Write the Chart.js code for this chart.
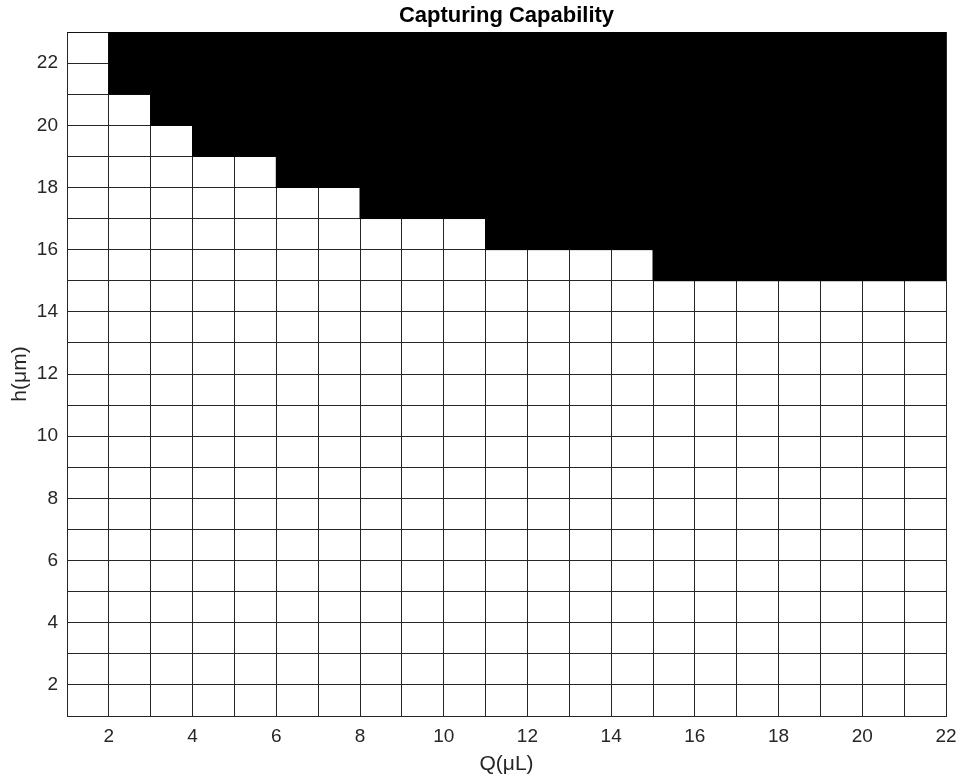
<!DOCTYPE html>
<html>
<head>
<meta charset="utf-8">
<script src="https://cdn.jsdelivr.net/npm/chart.js@4.4.1/dist/chart.umd.min.js"></script>
<style>
  html, body { margin: 0; padding: 0; background: #ffffff; }
  canvas { display: block; }
</style>
</head>
<body>
<canvas id="c" width="960" height="780"></canvas>
<script>
// ---- Data ----
const chartTitle = 'Capturing Capability';
const xTitle = 'Q(μL)';
const yTitle = 'h(μm)';

// Left edges of each Q column (last value closes the final column)
const qEdges = [1, 2, 3, 4, 5, 6, 7, 8, 9, 10, 11, 12, 13, 14, 15, 16, 17, 18, 19, 20, 21, 22];
// Lowest h at which the column becomes "captured" (black) — black from here up to the top
const hBoundary = [23, 21, 20, 19, 19, 18, 18, 17, 17, 17, 16, 16, 16, 16, 15, 15, 15, 15, 15, 15, 15, 15];

const xRange = [1, 22];
const yRange = [1, 23];
const xTickLabels = [2, 4, 6, 8, 10, 12, 14, 16, 18, 20, 22];
const yTickLabels = [2, 4, 6, 8, 10, 12, 14, 16, 18, 20, 22];

// ---- Chart ----
const FONT = '"Liberation Sans", Arial, Helvetica, sans-serif';
const points = qEdges.map((q, i) => ({ x: q, y: hBoundary[i] }));

new Chart(document.getElementById('c'), {
  type: 'line',
  data: {
    datasets: [{
      data: points,
      stepped: 'before',
      fill: 'end',
      backgroundColor: '#000000',
      borderColor: '#000000',
      borderWidth: 1,
      pointRadius: 0,
      tension: 0
    }]
  },
  options: {
    responsive: false,
    animation: false,
    devicePixelRatio: 1,
    layout: { padding: { left: 0, right: 14, top: 0, bottom: 0 } },
    plugins: {
      legend: { display: false },
      tooltip: { enabled: false },
      title: {
        display: true,
        fullSize: false,
        text: chartTitle,
        color: '#000000',
        font: { family: FONT, size: 22, weight: 'bold', lineHeight: '25px' },
        padding: { top: 3, bottom: 4 }
      }
    },
    scales: {
      x: {
        type: 'linear',
        min: xRange[0],
        max: xRange[1],
        ticks: {
          stepSize: 1,
          maxTicksLimit: 40,
          autoSkip: false,
          maxRotation: 0,
          minRotation: 0,
          padding: 9,
          color: '#262626',
          font: { family: FONT, size: 19 },
          callback: v => xTickLabels.includes(v) ? String(v) : ''
        },
        grid: { color: '#262626', lineWidth: 1, drawTicks: false },
        border: { color: '#262626', width: 1 },
        title: {
          display: true,
          text: xTitle,
          color: '#262626',
          font: { family: FONT, size: 21 },
          padding: { top: 0, bottom: 3 }
        },
        afterFit(scale) {
          scale.height = 64;
          scale.paddingLeft = 0;
          scale.paddingRight = 0;
        }
      },
      y: {
        type: 'linear',
        min: yRange[0],
        max: yRange[1],
        ticks: {
          stepSize: 1,
          maxTicksLimit: 40,
          autoSkip: false,
          padding: 9,
          color: '#262626',
          font: { family: FONT, size: 19 },
          callback: v => yTickLabels.includes(v) ? String(v) : ''
        },
        grid: { color: '#262626', lineWidth: 1, drawTicks: false },
        border: { color: '#262626', width: 1 },
        title: {
          display: true,
          text: yTitle,
          color: '#262626',
          font: { family: FONT, size: 21 },
          padding: { top: 8, bottom: 0 }
        },
        afterFit(scale) {
          scale.width = 67;
          scale.paddingTop = 0;
          scale.paddingBottom = 0;
        }
      }
    }
  }
});
</script>
</body>
</html>
